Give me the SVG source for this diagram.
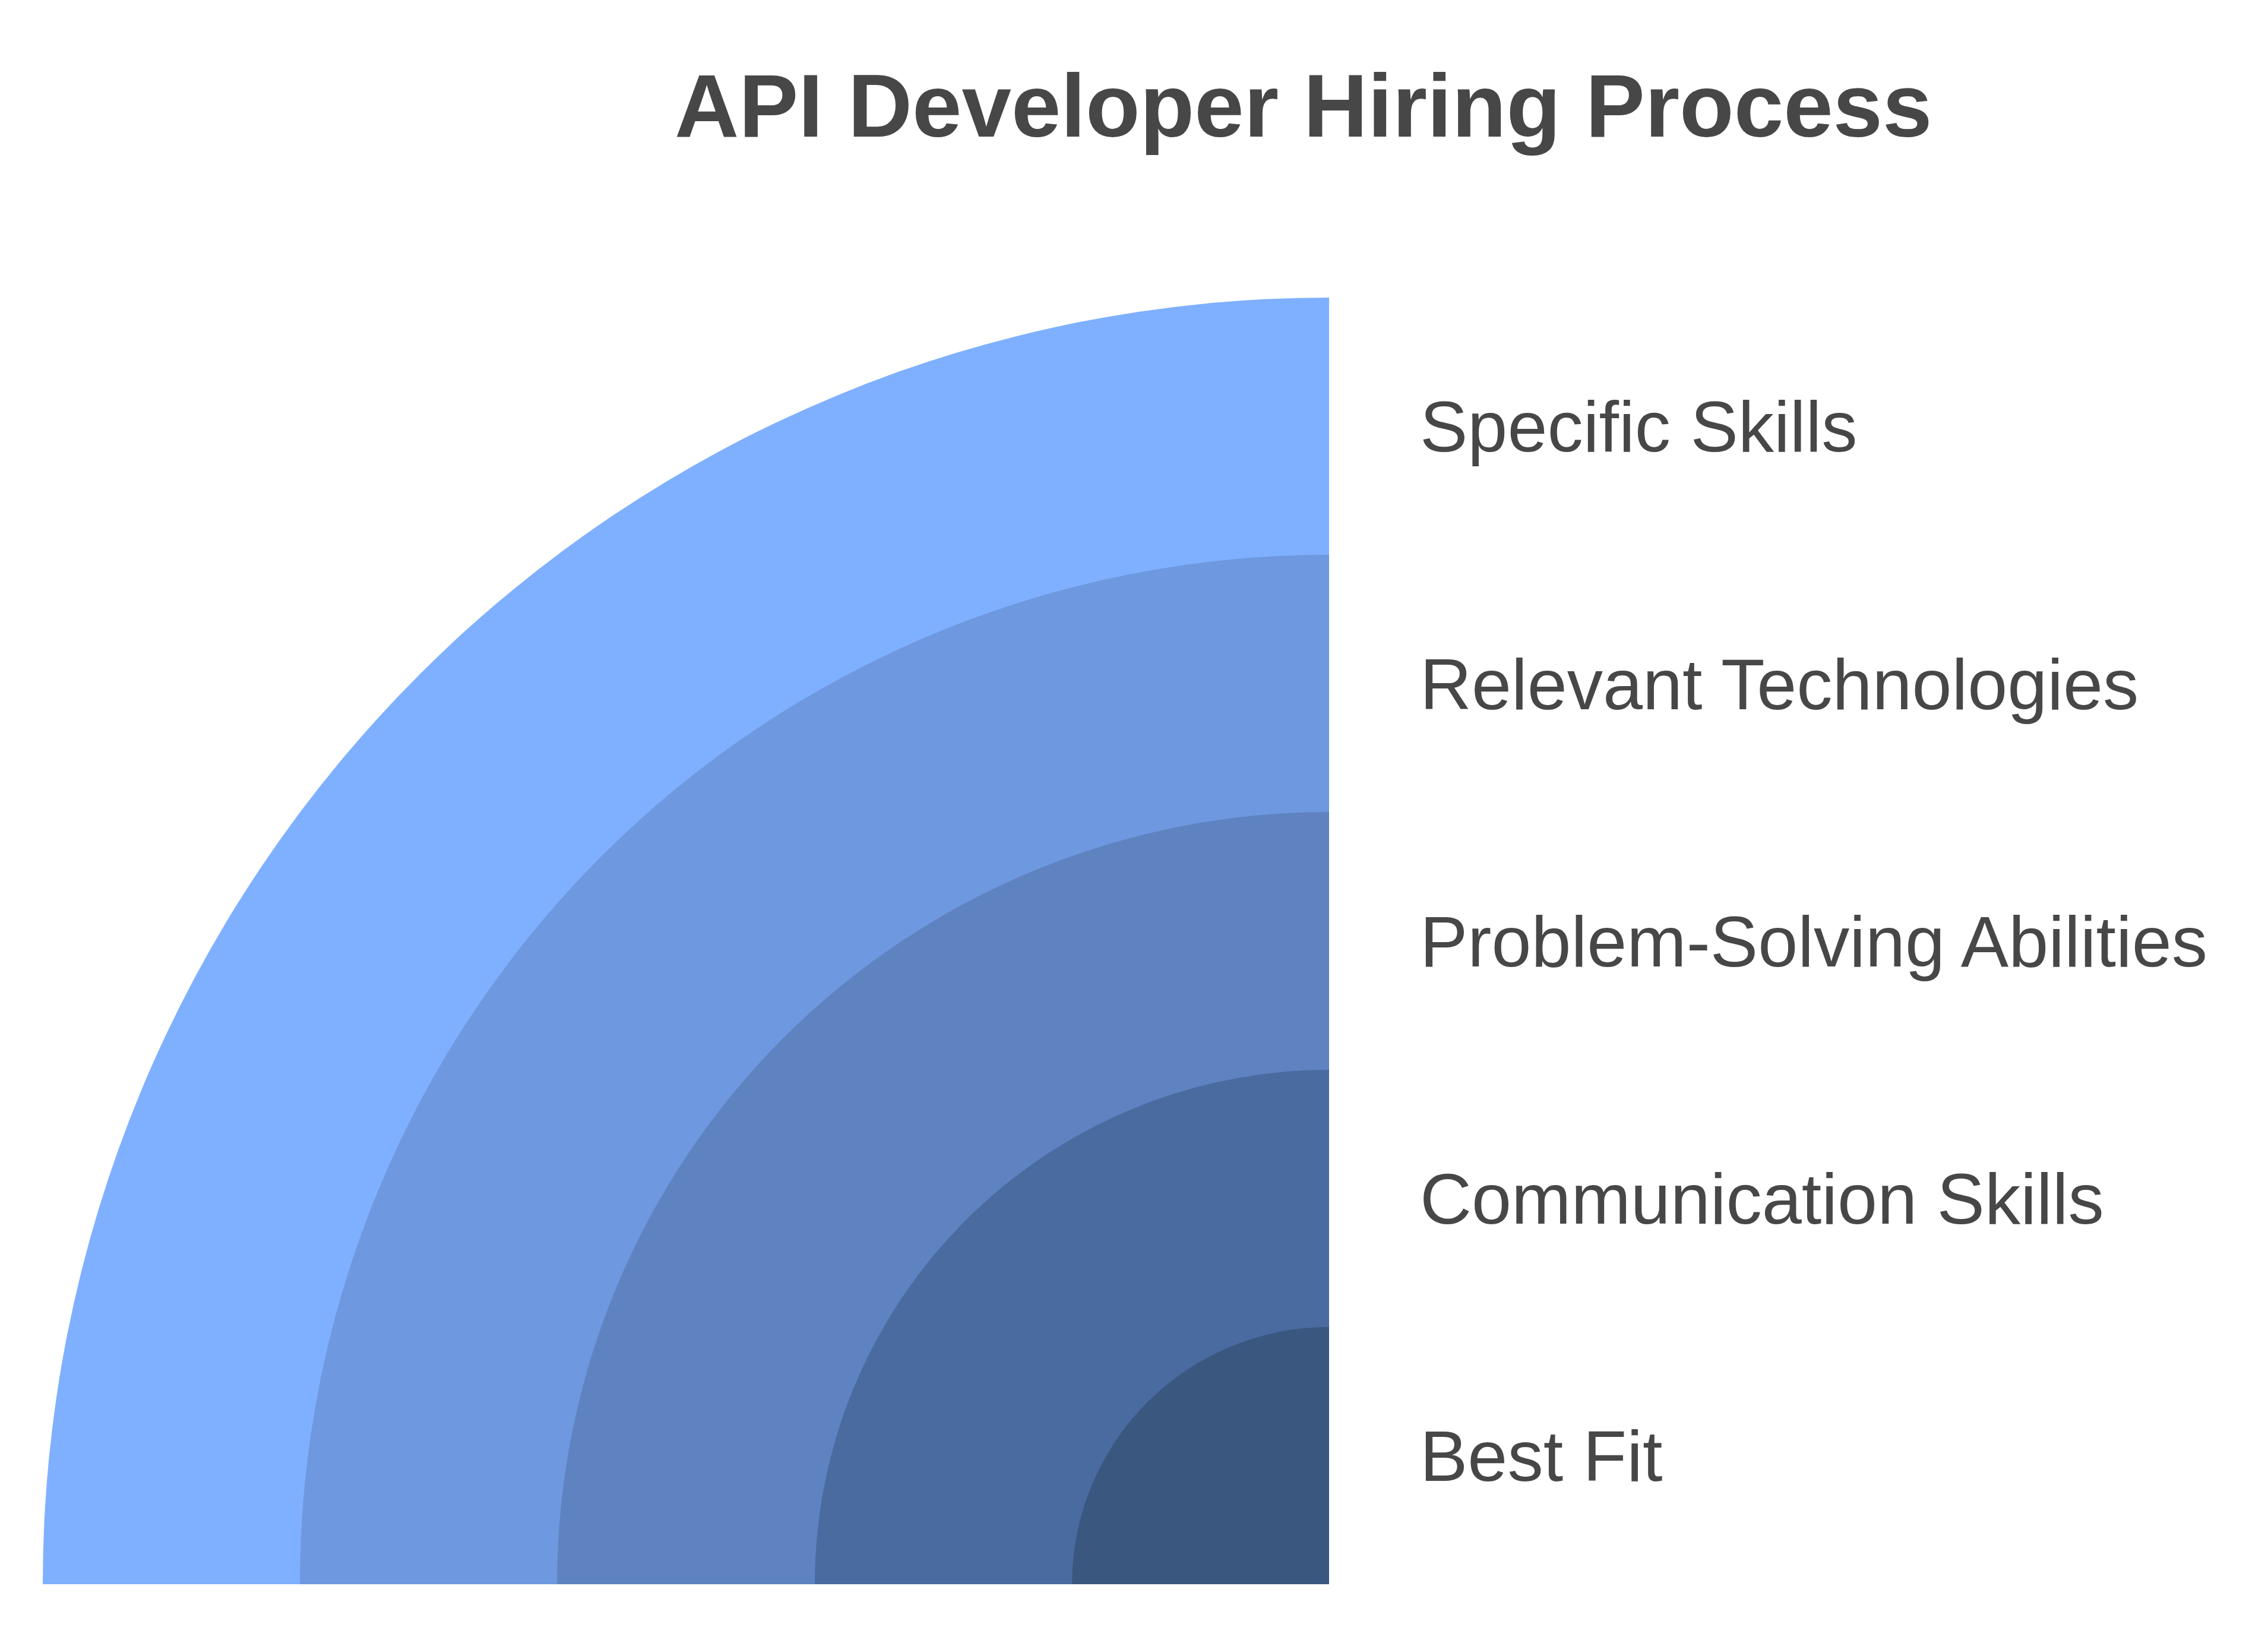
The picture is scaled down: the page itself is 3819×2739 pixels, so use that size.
<svg xmlns="http://www.w3.org/2000/svg" width="3819" height="2739" viewBox="0 0 3819 2739">
<style>
.title{font-family:"Liberation Sans",Arial,sans-serif;font-weight:bold;font-size:150px;fill:#474747}
.lbl{font-family:"Liberation Sans",Arial,sans-serif;font-size:120.5px;fill:#474747}
</style>
<rect width="3819" height="2739" fill="#ffffff"/>
<text class="title" x="1136" y="230">API Developer Hiring Process</text>
<g id="stage1">
<path d="M2238,2667 L72,2667 A2166,2166 0 0 1 2238,501 Z" fill="#7FB0FF"/>
<text class="lbl" x="2391" y="760">Specific Skills</text>
</g>
<g id="stage2">
<path d="M2238,2667 L505,2667 A1733,1733 0 0 1 2238,934 Z" fill="#6E98DF"/>
<text class="lbl" x="2391" y="1194">Relevant Technologies</text>
</g>
<g id="stage3">
<path d="M2238,2667 L938,2667 A1300,1300 0 0 1 2238,1367 Z" fill="#5E83C0"/>
<text class="lbl" x="2391" y="1627">Problem-Solving Abilities</text>
</g>
<g id="stage4">
<path d="M2238,2667 L1372,2667 A866,866 0 0 1 2238,1801 Z" fill="#4A6BA0"/>
<text class="lbl" x="2391" y="2060">Communication Skills</text>
</g>
<g id="stage5">
<path d="M2238,2667 L1805,2667 A433,433 0 0 1 2238,2234 Z" fill="#3A5780"/>
<text class="lbl" x="2391" y="2493">Best Fit</text>
</g>
<g id="connectors"></g>
</svg>
